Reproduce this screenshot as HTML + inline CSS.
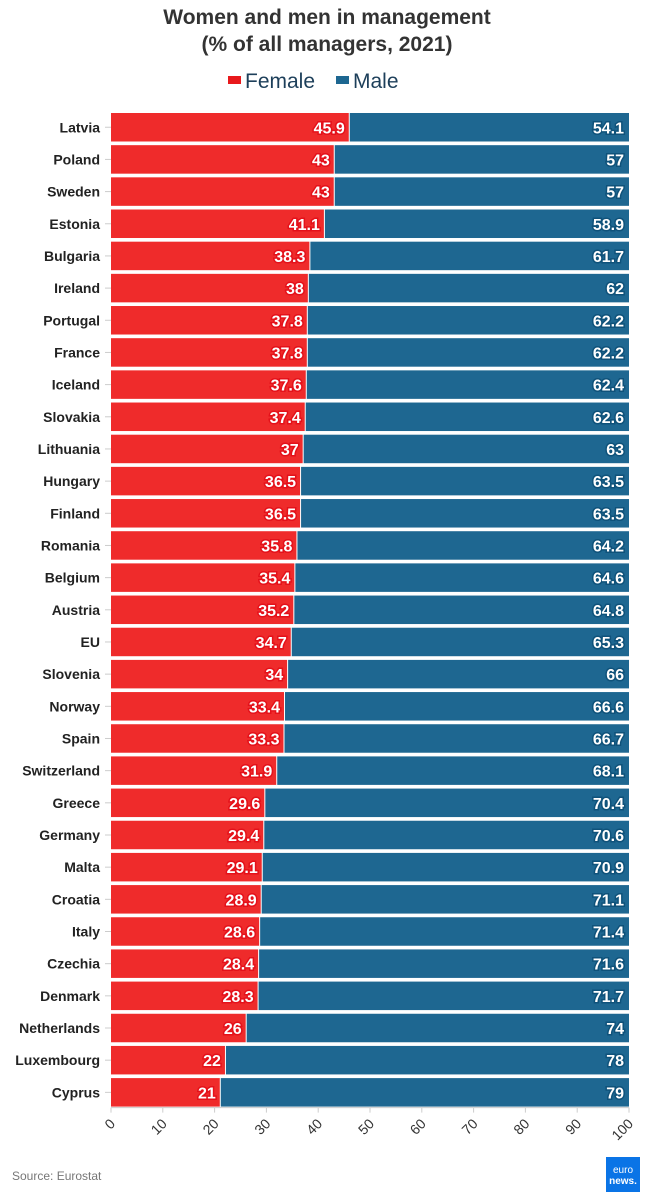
<!DOCTYPE html>
<html><head><meta charset="utf-8"><style>
body{margin:0;background:#fff;width:655px;height:1198px;overflow:hidden;font-family:"Liberation Sans",sans-serif}
</style></head><body>
<svg width="655" height="1198" xmlns="http://www.w3.org/2000/svg">
<text x="327" y="24" text-anchor="middle" font-size="21" font-weight="bold" fill="#333">Women and men in management</text>
<text x="327" y="51" text-anchor="middle" font-size="21" font-weight="bold" fill="#333">(% of all managers, 2021)</text>
<g>
<rect x="228" y="76" width="13" height="8" fill="#e8191c"/>
<text x="245" y="88" font-size="21" fill="#1d3f5a">Female</text>
<rect x="336" y="76" width="13" height="8" fill="#1d6791"/>
<text x="353" y="88" font-size="21" fill="#1d3f5a">Male</text>
</g>
<g id="plot"></g>
<text x="12" y="1180" font-size="12" fill="#777">Source: Eurostat</text>
<g>
<rect x="606" y="1157" width="34" height="35" fill="#0a74e6"/>
<text x="623" y="1173" text-anchor="middle" font-size="10" fill="#fff">euro</text>
<text x="623" y="1184" text-anchor="middle" font-size="10" font-weight="bold" fill="#fff">news.</text>
</g>
</svg>
<script>
const countries=["Latvia","Poland","Sweden","Estonia","Bulgaria","Ireland","Portugal","France","Iceland","Slovakia","Lithuania","Hungary","Finland","Romania","Belgium","Austria","EU","Slovenia","Norway","Spain","Switzerland","Greece","Germany","Malta","Croatia","Italy","Czechia","Denmark","Netherlands","Luxembourg","Cyprus"];
const female=[45.9,43,43,41.1,38.3,38,37.8,37.8,37.6,37.4,37,36.5,36.5,35.8,35.4,35.2,34.7,34,33.4,33.3,31.9,29.6,29.4,29.1,28.9,28.6,28.4,28.3,26,22,21];
const male=[54.1,57,57,58.9,61.7,62,62.2,62.2,62.4,62.6,63,63.5,63.5,64.2,64.6,64.8,65.3,66,66.6,66.7,68.1,70.4,70.6,70.9,71.1,71.4,71.6,71.7,74,78,79];
const ticks=[0,10,20,30,40,50,60,70,80,90,100];
const NS="http://www.w3.org/2000/svg";
const x0=111,x1=629,top0=113,pitch=32.17,bh=28.5;
const xs=v=>x0+(x1-x0)*v/100;
const ys=i=>top0+i*pitch;
const g=document.getElementById('plot');
function mk(t,a,txt){const e=document.createElementNS(NS,t);for(const k in a)e.setAttribute(k,a[k]);if(txt!==undefined)e.textContent=txt;g.appendChild(e);return e;}
countries.forEach((c,i)=>{
 const y=ys(i),f=female[i],m=male[i];
 let l=mk('text',{x:100,y:y+bh/2+5,'text-anchor':'end','font-size':14,'font-weight':'bold',fill:'#222'},c);
 
 
 let t=mk('line',{x1:105,x2:x0,y1:y+bh/2,y2:y+bh/2,stroke:'#ccc'});
 
 
 let r=mk('rect',{x:xs(0),y:y,width:xs(f)-xs(0),height:bh,fill:'#ef2b2b'});
 
 
 let r2=mk('rect',{x:xs(f)+1,y:y,width:xs(f+m)-xs(f)-1,height:bh,fill:'#1e6791'});
 
 
 let v=mk('text',{x:xs(f)-4,y:y+bh/2+6,'text-anchor':'end','font-size':16,'font-weight':'bold',fill:'#fff',stroke:'#e4111a','stroke-width':3,'paint-order':'stroke'},String(f));
 
 
 let v2=mk('text',{x:xs(f+m)-5,y:y+bh/2+6,'text-anchor':'end','font-size':16,'font-weight':'bold',fill:'#fff',stroke:'#0f527a','stroke-width':3,'paint-order':'stroke'},String(m));
 
 
});
const ay=ys(countries.length-1)+bh+1;
let ax=mk('line',{x1:x0,x2:x1,y1:ay,y2:ay,stroke:'#ccc'});


ticks.forEach(t=>{
 const x=xs(t);
 let tl=mk('line',{x1:x,x2:x,y1:ay,y2:ay+5,stroke:'#ccc'});
 
 
 let tx=mk('text',{x:x+5,y:ay+17,'text-anchor':'end','font-size':14,fill:'#333',transform:`rotate(-45 ${x+5} ${ay+17})`},String(t));
 
 
});
</script>
</body></html>
